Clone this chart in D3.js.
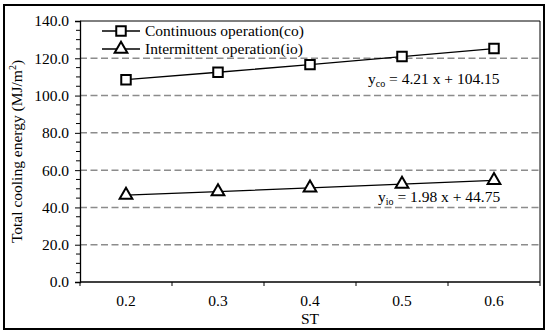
<!DOCTYPE html>
<html>
<head>
<meta charset="utf-8">
<script src="https://cdn.jsdelivr.net/npm/d3@7"></script>
<style>
  body { margin: 0; background: #fff; }
</style>
</head>
<body>
<svg id="chart" width="550" height="336"></svg>
<script>
// data
const categories = ["0.2", "0.3", "0.4", "0.5", "0.6"]
const coValues = [108.5, 112.5, 116.6, 120.9, 125.2]
const ioValues = [46.6, 48.5, 50.5, 52.5, 54.5]
const yTicks = [0, 20, 40, 60, 80, 100, 120, 140]
const legendNames = ["Continuous operation(co)", "Intermittent operation(io)"]

const FONT = "Liberation Serif"
const FS = "15.5px"
const svg = d3.select("#chart")
const W = 550, H = 336
const margin = {left: 80, right: 10, top: 21, bottom: 54}
const plotW = W - margin.left - margin.right
const plotH = H - margin.top - margin.bottom

// outer frame
svg.append("rect")
  .attr("x", 4).attr("y", 5)
  .attr("width", 540).attr("height", 324)
  .attr("fill", "none").attr("stroke", "#000").attr("stroke-width", 2)

const g = svg.append("g").attr("transform", `translate(${margin.left},${margin.top})`)

const x = d3.scaleBand().domain(categories).range([0, plotW])
const y = d3.scaleLinear().domain([0, 140]).range([plotH, 0])

// gridlines
g.append("g")
  .selectAll("line")
  .data(yTicks.filter(d => d > 0 && d < 140))
  .join("line")
    .attr("x1", 0).attr("x2", plotW)
    .attr("y1", d => y(d)).attr("y2", d => y(d))
    .attr("stroke", "#8c8c8c").attr("stroke-width", 1.5)
    .attr("stroke-dasharray", "7,3.5")

// plot border (top and right)
g.append("path")
  .attr("d", `M0,0H${plotW}V${plotH}`)
  .attr("fill", "none").attr("stroke", "#000").attr("stroke-width", 1)

// y axis
const yAxis = g.append("g")
  .call(d3.axisLeft(y).tickValues(yTicks).tickFormat(d3.format(".1f")).tickSize(5).tickPadding(6))
yAxis.select(".domain").attr("stroke-width", 1.3)
// minor ticks every 5
g.append("g")
  .selectAll("line")
  .data(d3.range(0, 141, 5).filter(d => d % 20 !== 0))
  .join("line")
    .attr("x1", -4).attr("x2", 0)
    .attr("y1", d => y(d)).attr("y2", d => y(d))
    .attr("stroke", "#000")

// x axis: ticks at category boundaries, labels at centres
const xAxis = g.append("g").attr("transform", `translate(0,${plotH})`)
xAxis.append("line")
  .attr("x1", 0).attr("x2", plotW)
  .attr("stroke", "#000").attr("stroke-width", 1.3)
xAxis.selectAll(".bt")
  .data(categories.concat(["end"]))
  .join("line")
    .attr("class", "bt")
    .attr("x1", (d, i) => i * x.step()).attr("x2", (d, i) => i * x.step())
    .attr("y1", 0).attr("y2", 4)
    .attr("stroke", "#000")
xAxis.selectAll("text")
  .data(categories)
  .join("text")
    .attr("x", d => x(d) + x.bandwidth() / 2)
    .attr("y", 24)
    .attr("text-anchor", "middle")
    .text(d => d)

// axis titles
svg.append("text")
  .attr("x", margin.left + plotW / 2).attr("y", 324)
  .attr("text-anchor", "middle")
  .text("ST")

const yl = svg.append("text")
  .attr("transform", `translate(22,${margin.top + plotH / 2}) rotate(-90)`)
  .attr("text-anchor", "middle")
yl.append("tspan").text("Total cooling energy  (MJ/m")
yl.append("tspan").attr("dy", -6).style("font-size", "10px").text("2")
yl.append("tspan").attr("dy", 6).text(")")

// series lines and markers
const cx = d => x(d) + x.bandwidth() / 2
const line = d3.line().x(d => cx(d.c)).y(d => y(d.v))
const coData = categories.map((c, i) => ({c, v: coValues[i]}))
const ioData = categories.map((c, i) => ({c, v: ioValues[i]}))

g.append("path").datum(coData).attr("d", line)
  .attr("fill", "none").attr("stroke", "#000").attr("stroke-width", 1.3)
g.append("path").datum(ioData).attr("d", line)
  .attr("fill", "none").attr("stroke", "#000").attr("stroke-width", 1.3)

const sq = d3.symbol(d3.symbolSquare, 90)
const tri = d3.symbol(d3.symbolTriangle, 70)

g.selectAll(".co").data(coData).join("path")
  .attr("class", "co")
  .attr("d", sq)
  .attr("transform", d => `translate(${cx(d.c)},${y(d.v)})`)
  .attr("fill", "#fff").attr("stroke", "#000").attr("stroke-width", 2)
g.selectAll(".io").data(ioData).join("path")
  .attr("class", "io")
  .attr("d", tri)
  .attr("transform", d => `translate(${cx(d.c)},${y(d.v)})`)
  .attr("fill", "#fff").attr("stroke", "#000").attr("stroke-width", 2)

// regression labels
function eqLabel(px, py, sub, rest) {
  const t = svg.append("text").attr("x", px).attr("y", py)
  t.append("tspan").text("y")
  t.append("tspan").attr("dy", 3).style("font-size", "10px").text(sub)
  t.append("tspan").attr("dy", -3).text(rest)
}
eqLabel(368, 84, "co", " = 4.21 x + 104.15")
eqLabel(378, 202, "io", " = 1.98 x + 44.75")

// legend
const legend = svg.append("g").attr("transform", "translate(102,31)")
legendNames.forEach((name, i) => {
  const row = legend.append("g").attr("transform", `translate(0,${i * 18})`)
  row.append("line").attr("x1", 0).attr("x2", 38)
    .attr("stroke", "#000").attr("stroke-width", 1.3)
  row.append("path").attr("d", i === 0 ? sq : tri)
    .attr("transform", "translate(19,0)")
    .attr("fill", "#fff").attr("stroke", "#000").attr("stroke-width", 2)
  row.append("text").attr("x", 43).attr("y", 5).text(name)
})

// one font for every text, set inline so the axis defaults do not win
svg.selectAll("text")
  .style("font-family", FONT)
  .style("font-size", FS)
  .attr("fill", "#000")
</script>
</body>
</html>
